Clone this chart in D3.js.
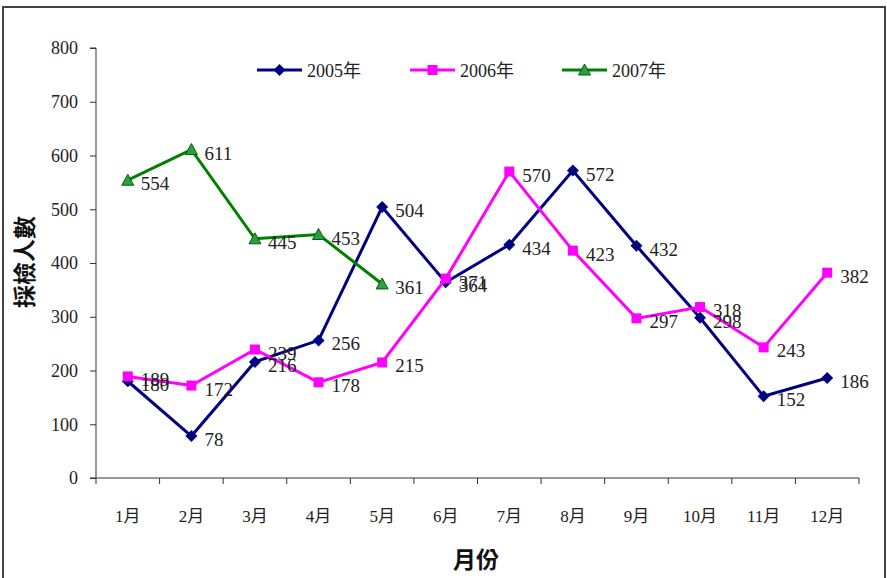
<!DOCTYPE html>
<html><head><meta charset="utf-8">
<script src="https://cdn.jsdelivr.net/npm/d3@7"></script>
<style>
body{margin:0;background:#fff;}
</style></head>
<body><svg id="c" width="887" height="578"></svg>
<script>
const months = ["1月","2月","3月","4月","5月","6月","7月","8月","9月","10月","11月","12月"];
const s2005 = [180,78,216,256,504,364,434,572,432,298,152,186];
const s2006 = [189,172,239,178,215,371,570,423,297,318,243,382];
const s2007 = [554,611,445,453,361];
const yTicks = [0,100,200,300,400,500,600,700,800];
const seriesNames = ["2005年","2006年","2007年"];
const seriesColors = ["#000080","#FF00FF","#008000"];
const SERIF = "'Liberation Serif','Noto Sans CJK TC',serif";

const svg = d3.select("#c");
svg.append("rect").attr("x",3).attr("y",7).attr("width",882).attr("height",580)
  .attr("fill","none").attr("stroke","#444").attr("stroke-width",2);

const x = d3.scaleBand().domain(months).range([96,859]).padding(0);
const y = d3.scaleLinear().domain([0,800]).range([478,48]);
const cx = m => x(m) + x.bandwidth()/2;

// y axis
const ya = svg.append("g").attr("transform","translate(96,0)")
  .call(d3.axisLeft(y).tickValues(yTicks).tickSize(6).tickPadding(12))
  .attr("font-family",SERIF).attr("font-size",18);
ya.select(".domain").attr("stroke","#333").attr("d","M-6,48H0V478H-6");
ya.selectAll(".tick line").attr("stroke","#333");
ya.selectAll(".tick text").attr("fill","#222");

// x axis
const xa = svg.append("g").attr("transform","translate(0,478)")
  .call(d3.axisBottom(x).tickSize(0).tickPadding(32))
  .attr("font-family",SERIF).attr("font-size",17);
xa.select(".domain").attr("stroke","#333").attr("d","M96,0H859");
xa.selectAll(".tick line").remove();
xa.selectAll(".tick text").attr("fill","#222");
const bounds = months.map(m => x(m)).concat([859]);
xa.selectAll(".bt").data(bounds).enter().append("line")
  .attr("x1",d=>d).attr("x2",d=>d).attr("y1",0).attr("y2",6).attr("stroke","#333");

// axis titles
svg.append("text").attr("transform","translate(33,262) rotate(-90)")
  .attr("text-anchor","middle").attr("font-size","23px").attr("font-weight","bold")
  .attr("font-family","'Noto Sans CJK TC',sans-serif").attr("fill","#111").text("採檢人數");
svg.append("text").attr("x",476).attr("y",568)
  .attr("text-anchor","middle").attr("font-size","23px").attr("font-weight","bold")
  .attr("font-family","'Noto Sans CJK TC',sans-serif").attr("fill","#111").text("月份");

const allSeries = [s2005,s2006,s2007];
const line = d3.line().x((d,i)=>cx(months[i])).y(d=>y(d));

function marker(g, k, px, py){
  if(k===0){
    g.append("path").attr("d",`M${px},${py-6}L${px+6},${py}L${px},${py+6}L${px-6},${py}Z`)
      .attr("fill","#000080");
  } else if(k===1){
    g.append("rect").attr("x",px-5).attr("y",py-5).attr("width",10).attr("height",10).attr("fill","#FF00FF");
  } else {
    g.append("path").attr("d",`M${px},${py-6}L${px+6},${py+5}L${px-6},${py+5}Z`)
      .attr("fill","#2E9B46").attr("stroke","#006400").attr("stroke-width",1);
  }
}

allSeries.forEach((s,k)=>{
  const g = svg.append("g");
  g.append("path").datum(s).attr("d",line).attr("fill","none")
    .attr("stroke",seriesColors[k]).attr("stroke-width",3).attr("stroke-linejoin","miter");
  s.forEach((v,i)=>{ marker(g,k,cx(months[i]),y(v)); });
});
// data labels
allSeries.forEach((s,k)=>{
  svg.append("g").selectAll("text").data(s).enter().append("text")
    .attr("x",(d,i)=>cx(months[i])+13).attr("y",d=>y(d)+10)
    .attr("font-size","19px").attr("fill","#222")
    .attr("font-family",SERIF).text(d=>d);
});

// legend
const lx = [257,410,562];
seriesNames.forEach((n,k)=>{
  const g = svg.append("g");
  g.append("line").attr("x1",lx[k]).attr("x2",lx[k]+45).attr("y1",70).attr("y2",70)
    .attr("stroke",seriesColors[k]).attr("stroke-width",3);
  marker(g,k,lx[k]+22.5,70);
  g.append("text").attr("x",lx[k]+50).attr("y",77).attr("font-size","18px")
    .attr("font-family",SERIF).attr("fill","#222").text(n);
});
</script></body></html>
